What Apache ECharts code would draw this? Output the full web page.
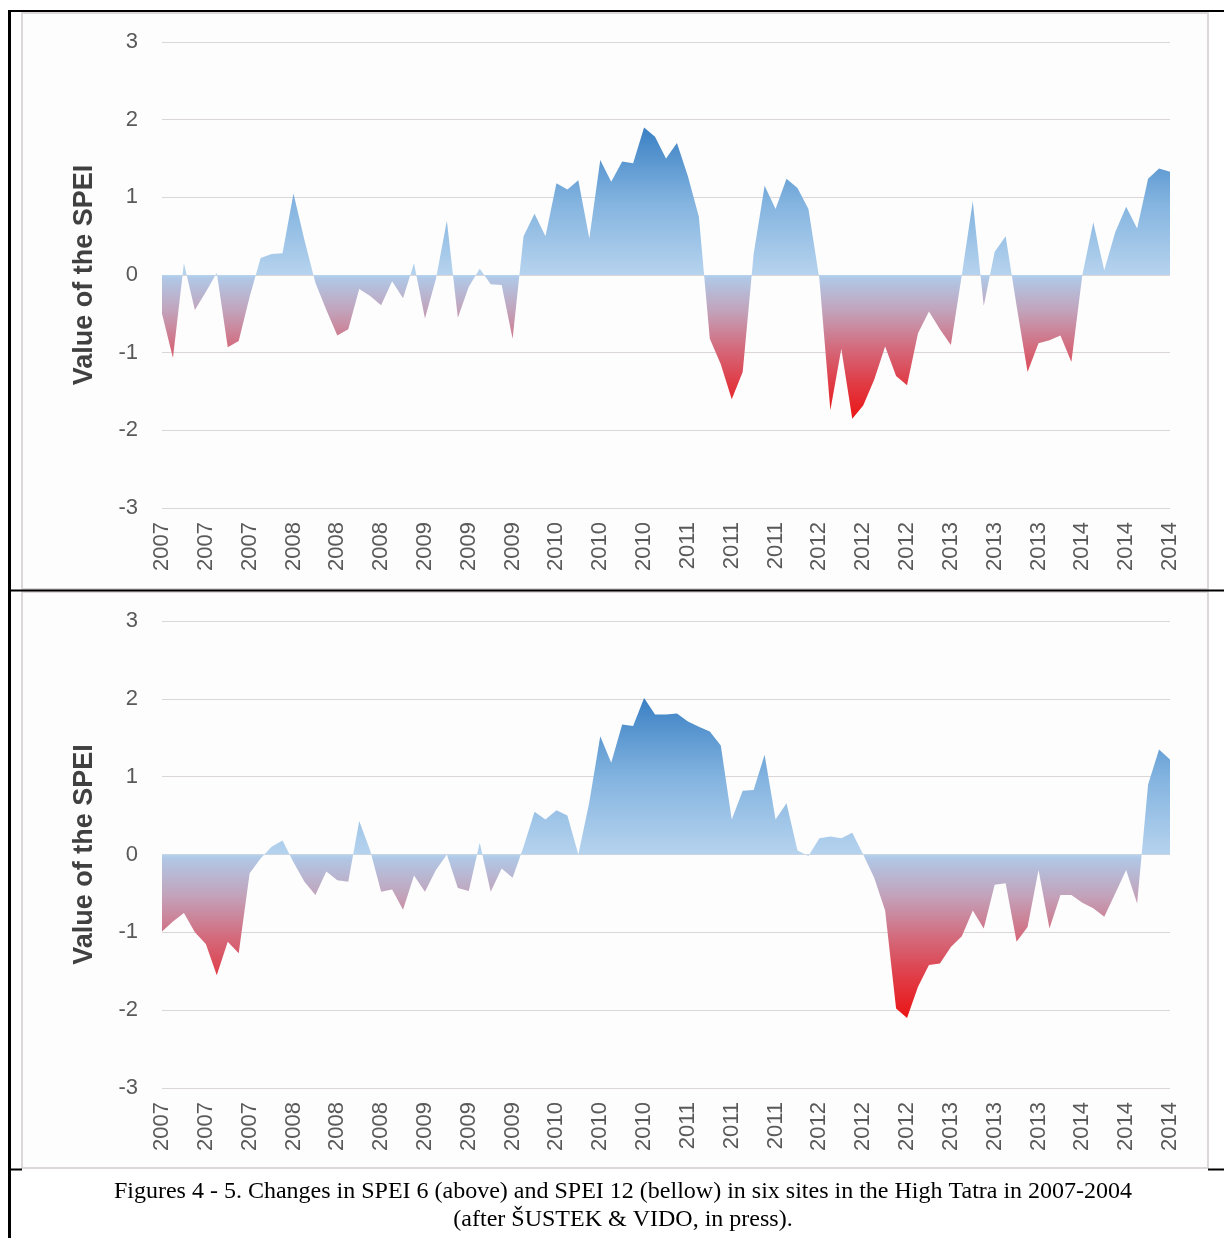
<!DOCTYPE html>
<html>
<head>
<meta charset="utf-8">
<script src="https://cdn.jsdelivr.net/npm/echarts@6/dist/echarts.min.js"></script>
<style>
html,body{margin:0;padding:0;background:#fff;}
#chart{width:1224px;height:1238px;}
</style>
</head>
<body>
<div id="chart"></div>
<script>
// Monthly SPEI values, Jan 2007 .. Sep 2014
const startYear = 2007;
const spei6 = [
 -0.5, -1.07, 0.15, -0.45, -0.22, 0.03, -0.93, -0.85, -0.28, 0.22, 0.27, 0.28,
 1.05, 0.45, -0.1, -0.45, -0.78, -0.7, -0.18, -0.27, -0.39, -0.08, -0.3, 0.15,
 -0.56, -0.05, 0.7, -0.55, -0.15, 0.08, -0.12, -0.13, -0.82, 0.5, 0.79, 0.5,
 1.18, 1.1, 1.22, 0.47, 1.48, 1.2, 1.46, 1.44, 1.9, 1.78, 1.5, 1.7,
 1.27, 0.75, -0.82, -1.15, -1.6, -1.25, 0.27, 1.15, 0.85, 1.24, 1.12, 0.85,
 -0.05, -1.74, -0.95, -1.85, -1.68, -1.35, -0.92, -1.3, -1.42, -0.75, -0.47, -0.7,
 -0.9, 0.0, 0.95, -0.4, 0.3, 0.5, -0.4, -1.25, -0.88, -0.84, -0.78, -1.12,
 0.0, 0.68, 0.06, 0.55, 0.88, 0.6, 1.24, 1.37, 1.33
];
const spei12 = [
 -0.99, -0.86, -0.75, -1.0, -1.15, -1.55, -1.12, -1.27, -0.24, -0.05, 0.1, 0.18,
 -0.1, -0.35, -0.52, -0.22, -0.33, -0.35, 0.43, 0.05, -0.48, -0.45, -0.71, -0.27,
 -0.48, -0.2, 0.0, -0.43, -0.47, 0.15, -0.48, -0.18, -0.3, 0.1, 0.55, 0.45,
 0.57, 0.5, 0.0, 0.67, 1.52, 1.18, 1.67, 1.65, 2.01, 1.8, 1.8, 1.81,
 1.71, 1.64, 1.58, 1.4, 0.45, 0.82, 0.83, 1.28, 0.45, 0.66, 0.05, -0.02,
 0.21, 0.23, 0.21, 0.28, 0.0, -0.3, -0.72, -1.98, -2.1, -1.7, -1.42, -1.4,
 -1.19, -1.05, -0.72, -0.95, -0.39, -0.37, -1.12, -0.93, -0.2, -0.95, -0.52, -0.52,
 -0.62, -0.69, -0.8, -0.5, -0.2, -0.63, 0.9, 1.35, 1.22
];
const categories = spei6.map((_, i) => String(startYear + Math.floor(i / 12)));
const yMin = -3, yMax = 3, yStep = 1;
const yAxisTitle = 'Value of the SPEI';
const captionLines = [
  'Figures 4 - 5. Changes in SPEI 6 (above) and SPEI 12 (bellow) in six sites in the High Tatra in 2007-2004',
  '(after ŠUSTEK & VIDO, in press).'
];

function areaGradient(data) {
  const mx = Math.max(0, Math.max(...data));
  const mn = Math.min(0, Math.min(...data));
  const z = mx / (mx - mn);
  const neg = f => z + (1 - z) * f;
  const pos = f => z * (1 - f);
  return new echarts.graphic.LinearGradient(0, 0, 0, 1, [
    { offset: 0, color: '#3a80c4' },
    { offset: pos(0.5), color: '#82b3df' },
    { offset: z, color: '#b6d3ee' },
    { offset: neg(0.02), color: '#b0c8e6' },
    { offset: neg(0.25), color: '#c2a3bb' },
    { offset: neg(0.5), color: '#d36c7e' },
    { offset: neg(0.75), color: '#e03c46' },
    { offset: 1, color: '#ea1515' }
  ]);
}

const labelFont = { color: '#595959', fontSize: 22, fontFamily: 'Liberation Sans' };

function xAxis(gi) {
  return {
    type: 'category', gridIndex: gi, data: categories, boundaryGap: false,
    axisLine: { show: false }, axisTick: { show: false },
    axisLabel: Object.assign({ interval: 3, rotate: 90, margin: 14 }, labelFont),
    splitLine: { show: false }
  };
}
function yAxis(gi) {
  return {
    type: 'value', gridIndex: gi, min: yMin, max: yMax, interval: yStep,
    name: yAxisTitle, nameLocation: 'middle', nameGap: 64,
    nameTextStyle: { fontSize: 27, fontWeight: 'bold', color: '#404040', fontFamily: 'Liberation Sans' },
    axisLine: { show: false }, axisTick: { show: false },
    axisLabel: Object.assign({ margin: 24 }, labelFont),
    splitLine: { lineStyle: { color: '#dcd7d7', width: 1 } }
  };
}
function series(data, gi) {
  return {
    type: 'line', xAxisIndex: gi, yAxisIndex: gi, data: data,
    symbol: 'none', lineStyle: { width: 0 }, smooth: false,
    areaStyle: { color: areaGradient(data), opacity: 1 },
    silent: true, animation: false
  };
}

const chart = echarts.init(document.getElementById('chart'), null, { renderer: 'canvas' });
chart.setOption({
  backgroundColor: '#ffffff',
  animation: false,
  grid: [
    { left: 162, right: 54, top: 42, height: 466, outerBoundsMode: 'none', containLabel: false },
    { left: 162, right: 54, top: 621, height: 467, outerBoundsMode: 'none', containLabel: false }
  ],
  xAxis: [xAxis(0), xAxis(1)],
  yAxis: [yAxis(0), yAxis(1)],
  series: [series(spei6, 0), series(spei12, 1)],
  graphic: [
    { type: 'rect', z: -10, shape: { x: 22, y: 13, width: 1186, height: 576 },
      style: { fill: '#fdfdfd', stroke: '#dcd8d8', lineWidth: 2 } },
    { type: 'rect', z: -10, shape: { x: 22, y: 592, width: 1186, height: 576 },
      style: { fill: '#fdfdfd', stroke: '#dcd8d8', lineWidth: 2 } },
    { type: 'line', z: 50, shape: { x1: 8, y1: 11, x2: 1224, y2: 11 }, style: { stroke: '#000', lineWidth: 2 } },
    { type: 'line', z: 50, shape: { x1: 9.5, y1: 10, x2: 9.5, y2: 1238 }, style: { stroke: '#000', lineWidth: 3 } },
    { type: 'line', z: 50, shape: { x1: 8, y1: 590.5, x2: 1224, y2: 590.5 }, style: { stroke: '#000', lineWidth: 2 } },
    { type: 'line', z: 50, shape: { x1: 1208, y1: 1169.5, x2: 1224, y2: 1169.5 }, style: { stroke: '#000', lineWidth: 2 } },
    { type: 'line', z: 50, shape: { x1: 8, y1: 1169.5, x2: 22, y2: 1169.5 }, style: { stroke: '#000', lineWidth: 2 } },
    { type: 'text', z: 50, x: 623, y: 1192,
      style: { text: captionLines[0], font: '24px "Liberation Serif"', fill: '#000', textAlign: 'center', textVerticalAlign: 'middle' } },
    { type: 'text', z: 50, x: 623, y: 1220,
      style: { text: captionLines[1], font: '24px "Liberation Serif"', fill: '#000', textAlign: 'center', textVerticalAlign: 'middle' } }
  ]
});
</script>
</body>
</html>
